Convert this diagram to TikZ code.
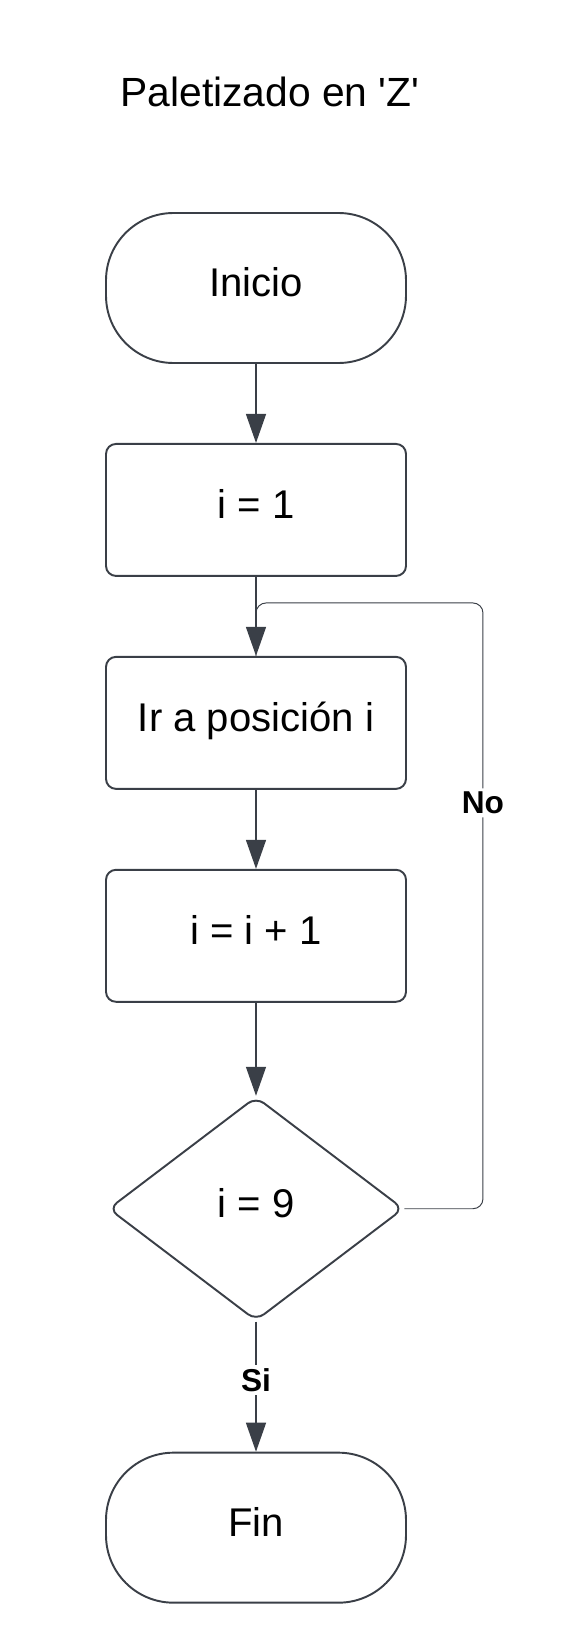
\documentclass[tikz,border=0pt]{standalone}
\usepackage{fontspec}
\setmainfont{Liberation Sans}
\usetikzlibrary{arrows.meta,positioning,calc,shapes.geometric}
\definecolor{trazo}{HTML}{3A3F47}
\tikzset{
  texto/.style={font=\fontsize{22.8}{27}\selectfont, text height=0.6cm, text depth=0.25cm},
  terminal/.style={texto, rectangle, rounded corners=1.35cm, draw=trazo, line width=1.1pt,
                   minimum width=6cm, minimum height=3cm},
  proceso/.style={texto, rectangle, rounded corners=0.2cm, draw=trazo, line width=1.1pt,
                  minimum width=6cm, minimum height=2.64cm},
  decision/.style={texto, diamond, rounded corners=0.2cm, draw=trazo, line width=1.1pt, inner sep=0pt,
                   minimum width=5.9cm, minimum height=4.48cm},
  flecha/.style={-{Triangle[length=0.58cm, width=0.4cm]}, line width=0.8pt, draw=trazo},
  retorno/.style={line width=0.55pt, draw=trazo, rounded corners=0.2cm},
  etiqueta/.style={fill=white, inner sep=2pt, font=\fontsize{18}{22}\selectfont\bfseries},
}
\begin{document}
\begin{tikzpicture}[node distance=1.58cm]
  \useasboundingbox (0,0) rectangle (11.26,-33);
  \node (titulo) at (5.4,-1.83) {\fontsize{23.2}{27}\selectfont Paletizado en \textquotesingle Z\textquotesingle};

  \node[terminal] (inicio) at (5.12,-5.76) {Inicio};
  \node[proceso, below=of inicio] (b1) {i = 1};
  \node[proceso, below=of b1] (b2) {Ir a posición i};
  \node[proceso, below=of b2] (b3) {i = i + 1};
  \node[decision, below=1.86cm of b3] (d) {i = 9};
  \node[terminal, below=2.6cm of d] (fin) {Fin};

  % vuelta del bucle
  \coordinate (m) at ($(b1.south)!0.33!(b2.north)$);
  \coordinate (r) at ($(b2.east)+(1.52,0)$);
  \draw[retorno] (d.east) -- (r |- d.east) -- node[etiqueta, pos=0.67] {No} (r |- m) -- (m) -- (b2.north);

  \draw[flecha] (inicio) -- (b1);
  \draw[flecha] (b1) -- (b2);
  \draw[flecha] (b2) -- (b3);
  \draw[flecha] (b3) -- (d);
  \draw[flecha] (d) -- node[etiqueta, pos=0.45] {Si} (fin);
\end{tikzpicture}
\end{document}
